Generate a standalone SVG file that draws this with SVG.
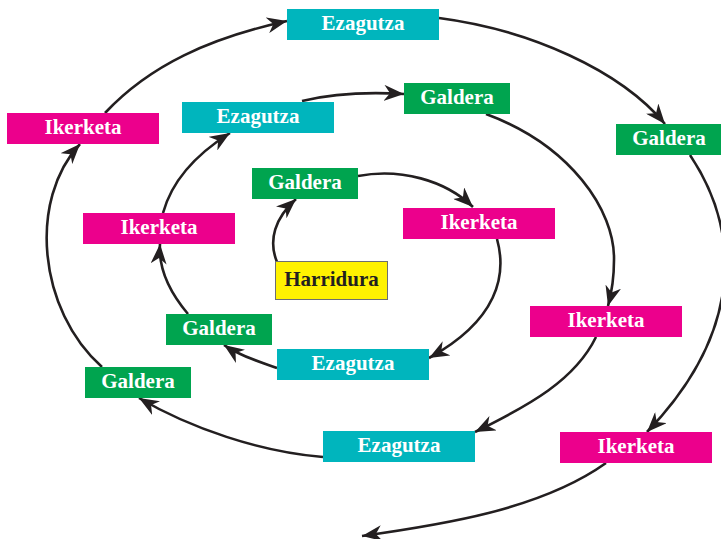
<svg xmlns="http://www.w3.org/2000/svg" width="721" height="539" viewBox="0 0 721 539">
<style>
.lbl{font-family:"Liberation Serif","Times New Roman",serif;font-weight:bold;font-size:21px;text-anchor:middle;fill:#ffffff}
.dark{fill:#231f20}
.c{fill:#00b5bd}
.m{fill:#ec008c}
.g{fill:#00a44f}
.y{fill:#fff200;stroke:#6d6e71;stroke-width:1}
.ln{fill:none;stroke:#231f20;stroke-width:2.6;marker-end:url(#ah)}
</style>
<defs>
<marker id="ah" markerUnits="userSpaceOnUse" markerWidth="22" markerHeight="16" refX="20" refY="8" orient="auto" viewBox="0 0 22 16">
<path d="M0,0 L20,8 L0,16 L6,8 Z" fill="#231f20"/>
</marker>
</defs>
<rect width="721" height="539" fill="#ffffff"/>
<g id="connectors">
<path class="ln" d="M277,262 C268,240 275,218 296,199"/>
<path class="ln" d="M358,176 C400,168 445,180 473,207"/>
<path class="ln" d="M497,239 C507,275 498,320 429,358"/>
<path class="ln" d="M277,368 C260,362 240,356 224,345"/>
<path class="ln" d="M188,314 C172,295 158,272 160,244"/>
<path class="ln" d="M163,213 C172,180 195,155 230,133"/>
<path class="ln" d="M302,101 C335,93 370,92 404,94"/>
<path class="ln" d="M486,114 C570,145 615,210 614,260 C614,280 611,295 608,306"/>
<path class="ln" d="M596,337 C575,380 530,405 475,432"/>
<path class="ln" d="M323,457 C260,452 190,428 139,398"/>
<path class="ln" d="M102,367 C38,310 28,200 80,144"/>
<path class="ln" d="M105,113 C150,65 210,38 287,21"/>
<path class="ln" d="M439,18 C530,30 620,70 665,124"/>
<path class="ln" d="M690,155 C740,230 745,330 647,432"/>
<path class="ln" d="M606,463 C540,510 440,525 362,536"/>
</g>
<g id="harridura"><rect class="y" x="275.5" y="261.5" width="112" height="38"/><text class="lbl dark" x="331.5" y="286">Harridura</text></g>
<g id="galdera1"><rect class="g" x="252" y="168" width="106" height="31"/><text class="lbl" x="305" y="189">Galdera</text></g>
<g id="ikerketa1"><rect class="m" x="403" y="208" width="152" height="31"/><text class="lbl" x="479" y="229">Ikerketa</text></g>
<g id="ezagutza1"><rect class="c" x="277" y="349" width="152" height="31"/><text class="lbl" x="353" y="370">Ezagutza</text></g>
<g id="galdera2"><rect class="g" x="166" y="314" width="106" height="31"/><text class="lbl" x="219" y="335">Galdera</text></g>
<g id="ikerketa2"><rect class="m" x="83" y="213" width="152" height="31"/><text class="lbl" x="159" y="234">Ikerketa</text></g>
<g id="ezagutza2"><rect class="c" x="182" y="102" width="152" height="31"/><text class="lbl" x="258" y="123">Ezagutza</text></g>
<g id="galdera3"><rect class="g" x="404" y="83" width="106" height="31"/><text class="lbl" x="457" y="104">Galdera</text></g>
<g id="ikerketa3"><rect class="m" x="530" y="306" width="152" height="31"/><text class="lbl" x="606" y="327">Ikerketa</text></g>
<g id="ezagutza3"><rect class="c" x="323" y="431" width="152" height="31"/><text class="lbl" x="399" y="452">Ezagutza</text></g>
<g id="galdera4"><rect class="g" x="85" y="367" width="106" height="31"/><text class="lbl" x="138" y="388">Galdera</text></g>
<g id="ikerketa4"><rect class="m" x="7" y="113" width="152" height="31"/><text class="lbl" x="83" y="134">Ikerketa</text></g>
<g id="ezagutza4"><rect class="c" x="287" y="9" width="152" height="31"/><text class="lbl" x="363" y="30">Ezagutza</text></g>
<g id="galdera5"><rect class="g" x="616" y="124" width="106" height="31"/><text class="lbl" x="669" y="145">Galdera</text></g>
<g id="ikerketa5"><rect class="m" x="560" y="432" width="152" height="31"/><text class="lbl" x="636" y="453">Ikerketa</text></g>
</svg>
